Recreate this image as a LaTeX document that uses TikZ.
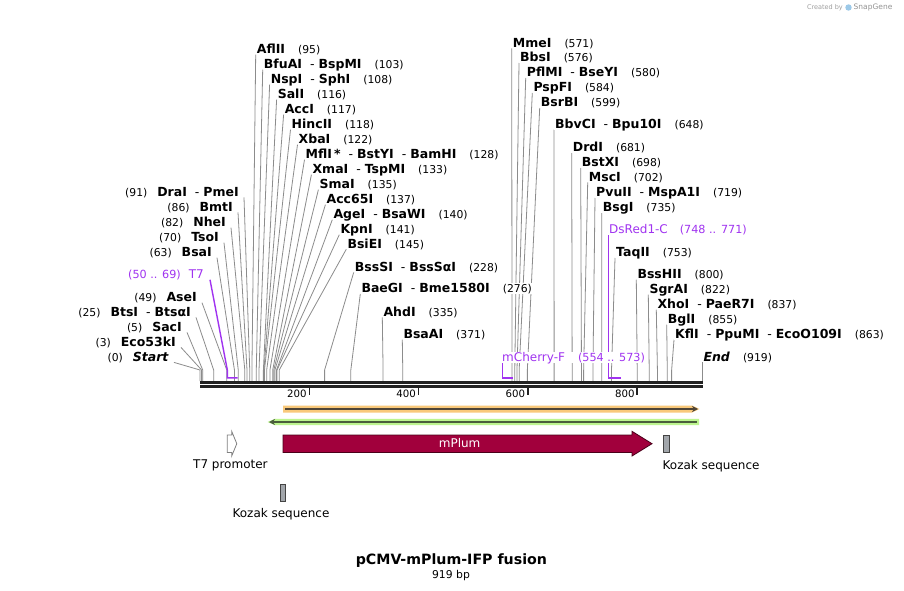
\documentclass[tikz,border=0pt]{standalone}
\usepackage{fontspec}
\setmainfont{DejaVu Sans}
\usetikzlibrary{arrows.meta}
\pgfdeclarelayer{back}
\pgfdeclarelayer{bg}
\pgfsetlayers{back,bg,main}

\definecolor{cutgray}{HTML}{8C8C8C}
\definecolor{featpurple}{HTML}{A033F0}
\definecolor{plum}{HTML}{A1003C}
\definecolor{plumdark}{HTML}{4A0019}
\definecolor{kozak}{HTML}{A2A6AB}
\definecolor{kozakline}{HTML}{444444}
\definecolor{orangeband}{HTML}{F9C97B}
\definecolor{orangeline}{HTML}{4F4536}
\definecolor{greenband}{HTML}{BDF58F}
\definecolor{greenline}{HTML}{4A5E3C}
\definecolor{backbone}{HTML}{222222}
\definecolor{sgblue}{HTML}{9CC9E8}

\newcommand{\numf}{\fontsize{10.8}{12}\selectfont}
\newcommand{\pnumf}{\fontsize{11.2}{12}\selectfont}
\newcommand{\nb}[1]{\hspace{13pt}{\numf(#1)}}
\newcommand{\nl}[1]{{\numf(#1)}\hspace{10pt}}
\newcommand{\sepr}{\hspace{8pt}{\mdseries-}\hspace{4pt}}

\tikzset{
  enzR/.style={anchor=west, inner sep=1pt, fill=white, font=\fontsize{12.5}{13}\selectfont, text height=9pt, text depth=0pt},
  enzL/.style={enzR, anchor=east},
  featlab/.style={inner sep=1pt, fill=white, text=featpurple, font=\fontsize{12}{13}\selectfont, text height=9pt, text depth=0pt},
  cutline/.style={draw=cutgray, line width=0.8pt},
  featline/.style={draw=featpurple, line width=1.4pt},
  bbline/.style={draw=backbone, line width=3pt},
  tickline/.style={draw=backbone, line width=1.5pt},
  ticklab/.style={anchor=east, inner sep=0pt, font=\fontsize{10.2}{11}\selectfont},
  maplab/.style={inner sep=0pt, font=\fontsize{12}{13}\selectfont},
  kozakbox/.style={fill=kozak, draw=kozakline, line width=0.8pt}
}

\newcommand{\REnz}[5]{%
  \node[enzR] (#1) at ({#2-1},{#3}) {#5};
  \begin{pgfonlayer}{bg}
    \coordinate (#1c) at ({200+0.5465*#4},370);
    \draw[cutline] (#1.south west) -- (#1c) -- ++(0,11);
  \end{pgfonlayer}
}
\newcommand{\LEnz}[5]{%
  \node[enzL] (#1) at ({#2+1},{#3}) {#5};
  \begin{pgfonlayer}{bg}
    \coordinate (#1c) at ({200+0.5465*#4},370);
    \draw[cutline] ([xshift=4pt]#1.south east) -- (#1c) -- ++(0,11);
  \end{pgfonlayer}
}

\begin{document}
\begin{tikzpicture}[x=1pt,y=-1pt]
\useasboundingbox (0,0) rectangle (904,591);
\begin{pgfonlayer}{back}
  \fill[white] (0,0) rectangle (904,591);
\end{pgfonlayer}

% ---- backbone ----
\coordinate (bbA) at (200,382.2);
\coordinate (bbB) at (703,382.2);
\coordinate (bbC) at (200,386.6);
\coordinate (bbD) at (703,386.6);
\draw[bbline] (bbA) -- (bbB);
\draw[bbline] (bbC) -- (bbD);

% ---- ticks ----
\foreach \t in {200,400,600,800}{
  \coordinate (tk\t) at ({200+0.5465*\t},388);
  \draw[tickline] (tk\t) -- ++(0,6.5);
  \node[ticklab] (tl\t) at ({200+0.5465*\t-2.5},393.5) {\t};
}

% ---- left enzymes ----
\LEnz{draI}{239}{191.7}{91}{\nl{91}\textbf{DraI}\sepr\textbf{PmeI}}
\LEnz{bmtI}{233}{206.7}{86}{\nl{86}\textbf{BmtI}}
\LEnz{nheI}{226}{222}{82}{\nl{82}\textbf{NheI}}
\LEnz{tsoI}{219}{237}{70}{\nl{70}\textbf{TsoI}}
\LEnz{bsaI}{212}{252}{63}{\nl{63}\textbf{BsaI}}
\LEnz{aseI}{197}{297}{49}{\nl{49}\textbf{AseI}}
\LEnz{btsI}{191}{311.7}{25}{\nl{25}\textbf{BtsI}\sepr\textbf{BtsαI}}
\LEnz{sacI}{182}{326.7}{5}{\nl{5}\textbf{SacI}}
\LEnz{ecoI}{176}{341.7}{3}{\nl{3}\textbf{Eco53kI}}
\LEnz{startl}{169}{356.7}{0}{\nl{0}\textbf{\textit{Start}}}

% ---- top-left fan ----
\REnz{aflII}{256.7}{49}{95}{\textbf{AflII}\nb{95}}
\REnz{bfuAI}{263.7}{64}{103}{\textbf{BfuAI}\sepr\textbf{BspMI}\nb{103}}
\REnz{nspI}{270.6}{79}{108}{\textbf{NspI}\sepr\textbf{SphI}\nb{108}}
\REnz{salI}{277.6}{94}{116}{\textbf{SalI}\nb{116}}
\REnz{accI}{284.6}{109}{117}{\textbf{AccI}\nb{117}}
\REnz{hincII}{291.5}{124}{118}{\textbf{HincII}\nb{118}}
\REnz{xbaI}{298.5}{139}{122}{\textbf{XbaI}\nb{122}}
\REnz{mflI}{305.5}{154}{128}{\textbf{MflI}\,\textbf{*}\sepr\textbf{BstYI}\sepr\textbf{BamHI}\nb{128}}
\REnz{xmaI}{312.4}{169}{133}{\textbf{XmaI}\sepr\textbf{TspMI}\nb{133}}
\REnz{smaI}{319.4}{184}{135}{\textbf{SmaI}\nb{135}}
\REnz{acc65I}{326.4}{199}{137}{\textbf{Acc65I}\nb{137}}
\REnz{ageI}{333.3}{214}{140}{\textbf{AgeI}\sepr\textbf{BsaWI}\nb{140}}
\REnz{kpnI}{340.3}{229}{141}{\textbf{KpnI}\nb{141}}
\REnz{bsiEI}{347.3}{243.5}{145}{\textbf{BsiEI}\nb{145}}
\REnz{bssSI}{354.7}{266.7}{228}{\textbf{BssSI}\sepr\textbf{BssSαI}\nb{228}}
\REnz{baeGI}{361.3}{288.3}{276}{\textbf{BaeGI}\sepr\textbf{Bme1580I}\nb{276}}
\REnz{ahdI}{383.3}{311.7}{335}{\textbf{AhdI}\nb{335}}
\REnz{bsaAI}{403.3}{334}{371}{\textbf{BsaAI}\nb{371}}

% ---- right fan ----
\REnz{mmeI}{512.7}{42.7}{571}{\textbf{MmeI}\nb{571}}
\REnz{bbsI}{520}{57.3}{576}{\textbf{BbsI}\nb{576}}
\REnz{pflMI}{526.7}{72.3}{580}{\textbf{PflMI}\sepr\textbf{BseYI}\nb{580}}
\REnz{pspFI}{533.3}{87.3}{584}{\textbf{PspFI}\nb{584}}
\REnz{bsrBI}{540.7}{102.3}{599}{\textbf{BsrBI}\nb{599}}
\REnz{bbvCI}{555}{124}{648}{\textbf{BbvCI}\sepr\textbf{Bpu10I}\nb{648}}
\REnz{drdI}{572.7}{147.3}{681}{\textbf{DrdI}\nb{681}}
\REnz{bstXI}{581.7}{162.3}{698}{\textbf{BstXI}\nb{698}}
\REnz{mscI}{588.7}{176.7}{702}{\textbf{MscI}\nb{702}}
\REnz{pvuII}{596}{192.3}{719}{\textbf{PvuII}\sepr\textbf{MspA1I}\nb{719}}
\REnz{bsgI}{602.7}{207.3}{735}{\textbf{BsgI}\nb{735}}
\REnz{taqII}{616}{252.3}{753}{\textbf{TaqII}\nb{753}}
\REnz{bssHII}{637.3}{274}{800}{\textbf{BssHII}\nb{800}}
\REnz{sgrAI}{649.3}{289}{822}{\textbf{SgrAI}\nb{822}}
\REnz{xhoI}{657.3}{304}{837}{\textbf{XhoI}\sepr\textbf{PaeR7I}\nb{837}}
\REnz{bglI}{667.7}{319}{855}{\textbf{BglI}\nb{855}}
\REnz{kflI}{675}{334}{863}{\textbf{KflI}\sepr\textbf{PpuMI}\sepr\textbf{EcoO109I}\nb{863}}

% ---- End ----
\node[enzR] (endl) at (702.3,356.7) {\textbf{\textit{End}}\nb{919}};
\coordinate (endc) at ({200+0.5465*919},381);
\begin{pgfonlayer}{bg}
  \draw[cutline] (endc |- endl.south) -- (endc);
\end{pgfonlayer}

% ---- primer / feature brackets (purple) ----
\node[featlab, anchor=east] (t7l) at (205,274) {{\pnumf(50 .. 69)}\hspace{8pt}T7};
\coordinate (t7a) at ({200+0.5465*50},370);
\coordinate (t7b) at ({200+0.5465*50},377.8);
\coordinate (t7e) at ({200+0.5465*69},377.8);
\begin{pgfonlayer}{bg}
  \draw[featline, line join=miter] ([xshift=5pt]t7l.south east) -- (t7a) -- (t7b) -- (t7e);
\end{pgfonlayer}

\node[featlab, anchor=west] (mchl) at (501,357) {mCherry-F\hspace{13pt}{\pnumf(554 .. 573)}};
\coordinate (mcha) at ({200+0.5465*554},377.8);
\coordinate (mche) at ({200+0.5465*573},377.8);
\begin{pgfonlayer}{bg}
  \draw[featline, line join=miter] (mcha |- mchl.south) -- (mcha) -- (mche);
\end{pgfonlayer}

\node[featlab, anchor=west] (dsrl) at (608,229) {DsRed1-C\hspace{12pt}{\pnumf(748 .. 771)}};
\coordinate (dsra) at ({200+0.5465*748},377.8);
\coordinate (dsre) at ({200+0.5465*771},377.8);
\begin{pgfonlayer}{bg}
  \draw[featline, line join=miter] (dsra |- dsrl.south) -- (dsra) -- (dsre);
\end{pgfonlayer}

% ---- orange and green arrows ----
\fill[orangeband] (283,405.5) -- (692,405.5) -- (699.5,409) -- (692,412.5) -- (283,412.5) -- cycle;
\coordinate (oraA) at (285,409);
\coordinate (oraB) at (698,409);
\draw[orangeline, line width=1.6pt, -{Stealth[length=6pt,width=6pt]}] (oraA) -- (oraB);

\fill[greenband] (699,418.8) -- (275,418.8) -- (267.5,422) -- (275,425.2) -- (699,425.2) -- cycle;
\coordinate (grA) at (697,422);
\coordinate (grB) at (269,422);
\draw[greenline, line width=1.6pt, -{Stealth[length=6pt,width=6pt]}] (grA) -- (grB);

% ---- mPlum ----
\filldraw[fill=plum, draw=plumdark, line width=0.8pt]
  (283,435) -- (632,435) -- (632,431.3) -- (652,443.7) -- (632,456) -- (632,452.5) -- (283,452.5) -- cycle;
\node[maplab, text=white] (mplum) at (459.6,443.5) {mPlum};

% ---- T7 promoter ----
\filldraw[fill=white, draw=gray, line width=0.8pt]
  (227.2,435) -- (231.7,435) -- (231.7,431.3) -- (236.8,443.7) -- (231.7,456) -- (231.7,452.5) -- (227.2,452.5) -- cycle;
\node[maplab] (t7p) at (230.4,465.7) {T7 promoter};

% ---- Kozak sequences ----
\draw[kozakbox] (663,435) rectangle (669,452.3);
\node[maplab, anchor=west] (koz1) at (662.5,465.7) {Kozak sequence};
\draw[kozakbox] (280.5,484) rectangle (285.5,501);
\node[maplab] (koz2) at (281,514) {Kozak sequence};

% ---- title ----
\node[inner sep=0pt, font=\bfseries\fontsize{14.2}{15}\selectfont] (title) at (451.4,560.7) {pCMV-mPlum-IFP fusion};
\node[inner sep=0pt, font=\fontsize{10.8}{12}\selectfont] (bp) at (451,575.5) {919 bp};

% ---- credit ----
\node[inner sep=0pt, anchor=east, text=gray!75, font=\fontsize{6.5}{7}\selectfont] (cred) at (843,7.5) {Created by};
\fill[sgblue] (848.5,7.5) circle (3.2);
\node[inner sep=0pt, anchor=west, text=gray!85, font=\fontsize{7.5}{8}\selectfont] (sg) at (853.5,7.5) {SnapGene};
\end{tikzpicture}
\end{document}
